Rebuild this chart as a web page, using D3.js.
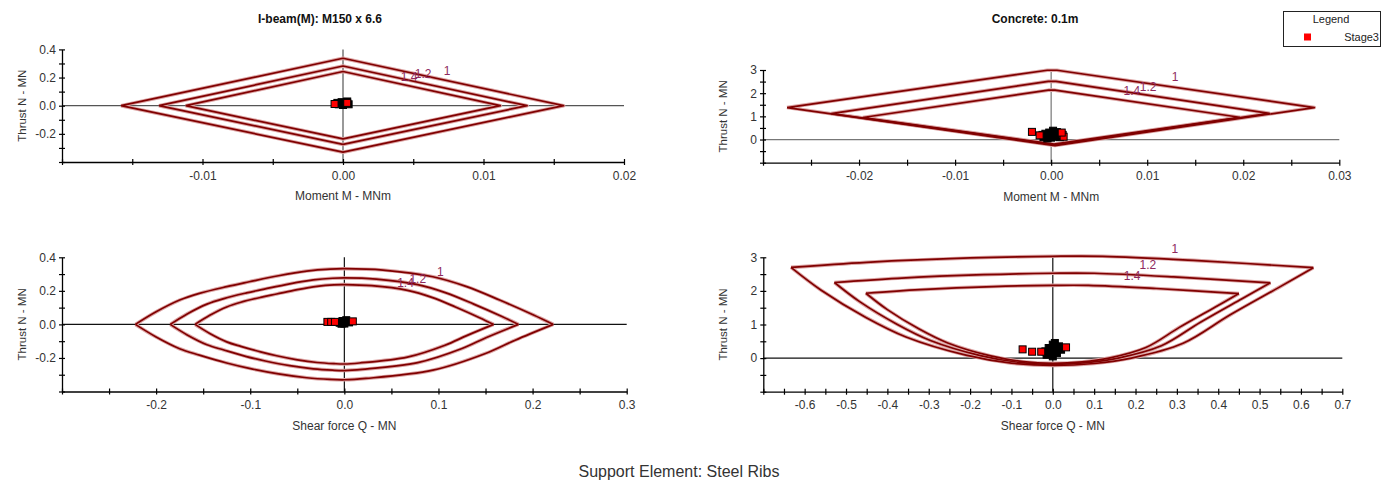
<!DOCTYPE html>
<html>
<head>
<meta charset="utf-8">
<script src="https://cdn.jsdelivr.net/npm/d3@7/dist/d3.min.js"></script>
<style>
  html, body { margin: 0; padding: 0; background: #ffffff; }
  svg { display: block; font-family: "Liberation Sans", Arial, sans-serif; }
</style>
</head>
<body>
<svg id="chart" width="1391" height="481"></svg>
<script>
// ---- Factor-of-safety envelope labels ----
const fsLabels = ["1", "1.2", "1.4"];

// ---- I-beam M-N capacity envelopes [moment MNm, thrust MN] ----
const ibeamMN_fs1 = [[-0.0158, 0], [0, 0.337], [0.0157, 0], [0, -0.33], [-0.0158, 0]];
const ibeamMN_fs12 = [[-0.0131, 0], [0, 0.282], [0.0131, 0], [0, -0.275], [-0.0131, 0]];
const ibeamMN_fs14 = [[-0.0112, 0], [0, 0.243], [0.0112, 0], [0, -0.236], [-0.0112, 0]];

// ---- Concrete M-N capacity envelopes ----
const concreteMN_fs1 = [[-0.0275, 1.38], [-0.0004, 2.99], [0.0006, 2.99], [0.0274, 1.38], [0.0004, -0.26], [-0.0275, 1.38]];
const concreteMN_fs12 = [[-0.0229, 1.12], [-0.0003, 2.51], [0.0005, 2.51], [0.0227, 1.13], [0.0004, -0.23], [-0.0229, 1.12]];
const concreteMN_fs14 = [[-0.0196, 0.95], [-0.0003, 2.13], [0.0004, 2.13], [0.0196, 0.96], [0.0003, -0.2], [-0.0196, 0.95]];

// ---- I-beam Q-N capacity envelopes [shear MN, thrust MN] ----
const ibeamQN_fs1 = [[-0.222, 0], [-0.2, 0.075], [-0.175, 0.145], [-0.154, 0.185], [-0.125, 0.225], [-0.101, 0.254],
  [-0.07, 0.29], [-0.04, 0.318], [-0.015, 0.33], [0, 0.332],
  [0.041, 0.324], [0.094, 0.284], [0.13, 0.225], [0.165, 0.145], [0.201, 0.056], [0.222, 0],
  [0.1815, -0.094], [0.15, -0.173], [0.094, -0.273], [0.023, -0.322], [0, -0.33],
  [-0.015, -0.328], [-0.04, -0.318], [-0.07, -0.295], [-0.101, -0.262], [-0.125, -0.23], [-0.154, -0.183],
  [-0.175, -0.145], [-0.2, -0.075], [-0.222, 0]];
const ibeamQN_fs12 = [[-0.185, 0], [-0.167, 0.0625], [-0.146, 0.121], [-0.128, 0.154], [-0.104, 0.1875], [-0.084, 0.212],
  [-0.058, 0.242], [-0.033, 0.265], [-0.0125, 0.275], [0, 0.277],
  [0.034, 0.27], [0.078, 0.237], [0.108, 0.188], [0.1375, 0.121], [0.1675, 0.047], [0.185, 0],
  [0.151, -0.078], [0.125, -0.144], [0.078, -0.228], [0.019, -0.268], [0, -0.275],
  [-0.0125, -0.273], [-0.033, -0.265], [-0.058, -0.246], [-0.084, -0.218], [-0.104, -0.192], [-0.128, -0.1525],
  [-0.146, -0.121], [-0.167, -0.0625], [-0.185, 0]];
const ibeamQN_fs14 = [[-0.1586, 0], [-0.143, 0.054], [-0.125, 0.104], [-0.11, 0.132], [-0.089, 0.161], [-0.072, 0.181],
  [-0.05, 0.207], [-0.029, 0.227], [-0.011, 0.236], [0, 0.237],
  [0.029, 0.231], [0.067, 0.203], [0.093, 0.161], [0.118, 0.104], [0.1436, 0.04], [0.1586, 0],
  [0.13, -0.067], [0.107, -0.124], [0.067, -0.195], [0.016, -0.23], [0, -0.236],
  [-0.011, -0.234], [-0.029, -0.227], [-0.05, -0.211], [-0.072, -0.187], [-0.089, -0.164], [-0.11, -0.131],
  [-0.125, -0.104], [-0.143, -0.054], [-0.1586, 0]];

// ---- Concrete Q-N capacity envelopes ----
const concreteQN_fs1 = [[-0.633, 2.7], [-0.45, 2.85], [-0.2, 2.98], [0, 3.03], [0.12, 3.03], [0.35, 2.9], [0.63, 2.69],
  [0.549, 2.12], [0.428, 1.28], [0.315, 0.44], [0.19, 0.0], [0.1, -0.16], [0, -0.22], [-0.1, -0.15],
  [-0.21, 0.09], [-0.355, 0.63], [-0.452, 1.21], [-0.56, 2.02], [-0.633, 2.7]];
const concreteQN_fs12 = [[-0.528, 2.25], [-0.375, 2.375], [-0.167, 2.483], [0, 2.525], [0.1, 2.525], [0.292, 2.417], [0.526, 2.24],
  [0.4575, 1.767], [0.357, 1.067], [0.2625, 0.367], [0.158, 0.0], [0.083, -0.133], [0, -0.185], [-0.083, -0.125],
  [-0.175, 0.075], [-0.296, 0.525], [-0.377, 1.01], [-0.467, 1.68], [-0.528, 2.25]];
const concreteQN_fs14 = [[-0.452, 1.93], [-0.321, 2.036], [-0.143, 2.129], [0, 2.164], [0.086, 2.164], [0.25, 2.071], [0.45, 1.92],
  [0.392, 1.514], [0.306, 0.914], [0.225, 0.314], [0.136, 0.0], [0.071, -0.114], [0, -0.157], [-0.071, -0.107],
  [-0.15, 0.064], [-0.254, 0.45], [-0.323, 0.864], [-0.4, 1.443], [-0.452, 1.93]];

// ---- Stage3 liner forces ----
const ibeamMN_stage3 = [[-0.0006, 0.012], [0.0003, 0.02]];
const ibeamMN_stage3Dense = [[-0.0003, 0.01], [0, 0.015], [0.0002, 0.02], [0.0004, 0.01], [-0.0001, 0.025], [0.0003, 0.03], [0, 0.005], [-0.0004, 0.02]];
const concreteMN_stage3 = [[-0.002, 0.33], [-0.0012, 0.18], [0.0012, 0.2], [0.0013, 0.12], [0.0011, 0.3]];
const concreteMN_stage3Dense = [[-0.0008, 0.1], [-0.0004, 0.05], [0, 0.08], [0.0004, 0.12], [0.0008, 0.2], [-0.0006, 0.25],
  [-0.0002, 0.3], [0.0002, 0.38], [0.0006, 0.32], [0, 0.2], [-0.0009, 0.2], [0.0009, 0.1]];
const ibeamQN_stage3 = [[-0.018, 0.015], [-0.014, 0.015], [-0.01, 0.015], [0.009, 0.018]];
const ibeamQN_stage3Dense = [[-0.005, 0.01], [-0.002, 0.02], [0, 0.005], [0.002, 0.025], [0.005, 0.012], [0, 0.018], [-0.003, 0.004]];
const concreteQN_stage3 = [[-0.073, 0.26], [-0.05, 0.19], [-0.028, 0.19], [0.032, 0.32]];
const concreteQN_stage3Dense = [[-0.015, 0.1], [-0.01, 0.3], [0, 0.05], [0, 0.2], [0, 0.4], [0.01, 0.15], [0.015, 0.35],
  [0.02, 0.25], [-0.018, 0.2], [0.005, 0.45]];

// ---- Axis tick values ----
const ibeamMN_xTicks = [-0.02, -0.015, -0.01, -0.005, 0, 0.005, 0.01, 0.015, 0.02];
const ibeamMN_xLabels = [-0.01, 0, 0.01, 0.02];
const ibeamN_yTicks = [-0.4, -0.3, -0.2, -0.1, 0, 0.1, 0.2, 0.3, 0.4];
const ibeamN_yLabels = [-0.2, 0, 0.2, 0.4];
const concreteMN_xTicks = [-0.03, -0.025, -0.02, -0.015, -0.01, -0.005, 0, 0.005, 0.01, 0.015, 0.02, 0.025, 0.03];
const concreteMN_xLabels = [-0.02, -0.01, 0, 0.01, 0.02, 0.03];
const concreteN_yTicks = [-1, -0.5, 0, 0.5, 1, 1.5, 2, 2.5, 3];
const concreteN_yLabels = [0, 1, 2, 3];
const ibeamQN_xTicks = [-0.3, -0.25, -0.2, -0.15, -0.1, -0.05, 0, 0.05, 0.1, 0.15, 0.2, 0.25, 0.3];
const ibeamQN_xLabels = [-0.2, -0.1, 0, 0.1, 0.2, 0.3];
const concreteQN_xTicks = [-0.7, -0.65, -0.6, -0.55, -0.5, -0.45, -0.4, -0.35, -0.3, -0.25, -0.2, -0.15, -0.1, -0.05, 0,
  0.05, 0.1, 0.15, 0.2, 0.25, 0.3, 0.35, 0.4, 0.45, 0.5, 0.55, 0.6, 0.65, 0.7];
const concreteQN_xLabels = [-0.6, -0.5, -0.4, -0.3, -0.2, -0.1, 0, 0.1, 0.2, 0.3, 0.4, 0.5, 0.6, 0.7];

// ---- Text ----
const panelTitles = ["I-beam(M): M150 x 6.6", "Concrete: 0.1m"];
const yTitle = "Thrust N - MN";
const xTitles = ["Moment M - MNm", "Shear force Q - MN"];
const footerText = "Support Element: Steel Ribs";
const legendTitle = "Legend";
const legendSeries = ["Stage3"];

// ---- Styling ----
const envelopeColor = "#800000";
const envelopeHalo = "#dca5a5";
const fsLabelColor = "#8e2a5e";
const stageColor = "#ff0000";
const textColor = "#333333";

// plain hyphen-minus for negative tick labels
const locale = d3.formatLocale({ decimal: ".", thousands: ",", grouping: [3], currency: ["", ""], minus: "-" });
const fmt = s => locale.format(s);

const svg = d3.select("#chart");

const panels = [
  { curves: [ibeamMN_fs1, ibeamMN_fs12, ibeamMN_fs14], pts: ibeamMN_stage3, dense: ibeamMN_stage3Dense, smooth: false,
    xDomain: [-0.02, 0.02], yDomain: [-0.4, 0.4], xRange: [62, 624], yRange: [162, 49.4],
    xTicks: ibeamMN_xTicks, xLabels: ibeamMN_xLabels, xFmt: fmt(".2f"),
    yTicks: ibeamN_yTicks, yLabels: ibeamN_yLabels, yFmt: fmt(".1f"),
    xTitle: xTitles[0], title: panelTitles[0], titleX: 320, zeroColor: "#555",
    labelAt: [[0.0074, 0.248], [0.0057, 0.225], [0.0047, 0.203]] },
  { curves: [concreteMN_fs1, concreteMN_fs12, concreteMN_fs14], pts: concreteMN_stage3, dense: concreteMN_stage3Dense, smooth: false,
    xDomain: [-0.03, 0.03], yDomain: [-1, 3], xRange: [763, 1339.3], yRange: [162.7, 70],
    xTicks: concreteMN_xTicks, xLabels: concreteMN_xLabels, xFmt: fmt(".2f"),
    yTicks: concreteN_yTicks, yLabels: concreteN_yLabels, yFmt: fmt("d"),
    xTitle: xTitles[0], title: panelTitles[1], titleX: 1035, zeroColor: "#777",
    labelAt: [[0.0129, 2.68], [0.0101, 2.28], [0.0084, 2.09]] },
  { curves: [ibeamQN_fs1, ibeamQN_fs12, ibeamQN_fs14], pts: ibeamQN_stage3, dense: ibeamQN_stage3Dense, smooth: true,
    xDomain: [-0.3, 0.3], yDomain: [-0.4, 0.4], xRange: [62, 626.7], yRange: [391.5, 257.3],
    xTicks: ibeamQN_xTicks, xLabels: ibeamQN_xLabels, xFmt: fmt(".1f"),
    yTicks: ibeamN_yTicks, yLabels: ibeamN_yLabels, yFmt: fmt(".1f"),
    xTitle: xTitles[1], title: null, zeroColor: "#111",
    labelAt: [[0.102, 0.314], [0.078, 0.27], [0.065, 0.245]] },
  { curves: [concreteQN_fs1, concreteQN_fs12, concreteQN_fs14], pts: concreteQN_stage3, dense: concreteQN_stage3Dense, smooth: true,
    xDomain: [-0.7, 0.7], yDomain: [-1, 3], xRange: [763.3, 1342.3], yRange: [391.7, 257.3],
    xTicks: concreteQN_xTicks, xLabels: concreteQN_xLabels, xFmt: fmt(".1f"),
    yTicks: concreteN_yTicks, yLabels: concreteN_yLabels, yFmt: fmt("d"),
    xTitle: xTitles[1], title: null, zeroColor: "#111",
    labelAt: [[0.295, 3.26], [0.23, 2.77], [0.192, 2.44]] }
];

const near = (list, v) => list.some(t => Math.abs(t - v) < 1e-9);

panels.forEach(p => {
  const x = d3.scaleLinear().domain(p.xDomain).range(p.xRange);
  const y = d3.scaleLinear().domain(p.yDomain).range(p.yRange);
  const g = svg.append("g");

  // zero reference lines
  g.append("line")
    .attr("x1", p.xRange[0]).attr("x2", p.xRange[1])
    .attr("y1", y(0)).attr("y2", y(0))
    .attr("stroke", p.zeroColor).attr("stroke-width", 1.2);
  g.append("line")
    .attr("x1", x(0)).attr("x2", x(0))
    .attr("y1", p.yRange[0]).attr("y2", p.yRange[1])
    .attr("stroke", p.zeroColor).attr("stroke-width", 1.2);

  // envelopes: smooth branches are split at the extreme-shear vertex so the tips stay sharp
  const linear = d3.line().x(d => x(d[0])).y(d => y(d[1]));
  const smooth = d3.line().x(d => x(d[0])).y(d => y(d[1])).curve(d3.curveCatmullRom.alpha(0.5));
  const pieces = c => {
    if (!p.smooth) return [linear(c)];
    const k = d3.maxIndex(c, d => d[0]);
    return [smooth(c.slice(0, k + 1)), smooth(c.slice(k))];
  };
  const paths = p.curves.flatMap(pieces);
  paths.forEach(d => {
    g.append("path").attr("d", d).attr("fill", "none")
      .attr("stroke", envelopeHalo).attr("stroke-width", 3.6).attr("stroke-linejoin", "round");
  });
  paths.forEach(d => {
    g.append("path").attr("d", d).attr("fill", "none")
      .attr("stroke", envelopeColor).attr("stroke-width", 1.7).attr("stroke-linejoin", "round");
  });

  // factor-of-safety labels
  fsLabels.forEach((lab, i) => {
    g.append("text")
      .attr("x", x(p.labelAt[i][0])).attr("y", y(p.labelAt[i][1]) + 4)
      .attr("text-anchor", "middle").attr("font-size", 12)
      .attr("fill", fsLabelColor).text(lab);
  });

  // stage3 points
  const s = 7;
  g.selectAll(".dense").data(p.dense).join("rect")
    .attr("x", d => x(d[0]) - s / 2).attr("y", d => y(d[1]) - s / 2)
    .attr("width", s).attr("height", s)
    .attr("fill", "#000").attr("stroke", "#000").attr("stroke-width", 1);
  g.selectAll(".pt").data(p.pts).join("rect")
    .attr("x", d => x(d[0]) - s / 2).attr("y", d => y(d[1]) - s / 2)
    .attr("width", s).attr("height", s)
    .attr("fill", stageColor).attr("stroke", "#000").attr("stroke-width", 1);

  // axes
  const xAxis = d3.axisBottom(x).tickValues(p.xTicks).tickSizeOuter(0).tickSizeInner(3)
    .tickFormat(v => near(p.xLabels, v) ? p.xFmt(v) : "");
  const gx = svg.append("g").attr("transform", `translate(0,${p.yRange[0]})`).call(xAxis);
  gx.select(".domain").attr("stroke", "#000").attr("stroke-width", 1.3);
  gx.selectAll(".tick line").attr("y1", -3).attr("y2", 3).attr("stroke", "#000").attr("stroke-width", 1.2);
  gx.selectAll(".tick text").attr("y", 9).attr("dy", "0.71em")
    .attr("font-size", 12).attr("font-family", "Liberation Sans, Arial, sans-serif").attr("fill", textColor);

  const yAxis = d3.axisLeft(y).tickValues(p.yTicks).tickSizeOuter(0).tickSizeInner(3)
    .tickFormat(v => near(p.yLabels, v) ? p.yFmt(v) : "");
  const gy = svg.append("g").attr("transform", `translate(${p.xRange[0]},0)`).call(yAxis);
  gy.select(".domain").attr("stroke", "#000").attr("stroke-width", 1.3);
  gy.selectAll(".tick line").attr("x1", -3).attr("x2", 3).attr("stroke", "#000").attr("stroke-width", 1.2);
  gy.selectAll(".tick text").attr("x", -6)
    .attr("font-size", 12).attr("font-family", "Liberation Sans, Arial, sans-serif").attr("fill", textColor);

  // axis titles
  svg.append("text").attr("x", x(0)).attr("y", p.yRange[0] + 38)
    .attr("text-anchor", "middle").attr("font-size", 12).attr("fill", textColor).text(p.xTitle);
  const yMid = (p.yRange[0] + p.yRange[1]) / 2;
  svg.append("text")
    .attr("transform", `translate(${p.xRange[0] - 36},${yMid}) rotate(-90)`)
    .attr("text-anchor", "middle").attr("font-size", 11.5).attr("fill", textColor).text(yTitle);

  if (p.title) {
    svg.append("text").attr("x", p.titleX).attr("y", 23)
      .attr("text-anchor", "middle").attr("font-size", 12).attr("font-weight", "bold")
      .attr("fill", "#111").text(p.title);
  }
});

// legend
const lg = svg.append("g");
lg.append("rect").attr("x", 1283.5).attr("y", 11.5).attr("width", 97).attr("height", 35)
  .attr("fill", "#fff").attr("stroke", "#222").attr("stroke-width", 1);
lg.append("text").attr("x", 1331).attr("y", 23).attr("text-anchor", "middle")
  .attr("font-size", 11).attr("fill", "#222").text(legendTitle);
lg.append("rect").attr("x", 1304).attr("y", 33.5).attr("width", 7).attr("height", 7).attr("fill", stageColor);
lg.append("text").attr("x", 1379).attr("y", 41).attr("text-anchor", "end")
  .attr("font-size", 11).attr("fill", "#222").text(legendSeries[0]);

// footer
svg.append("text").attr("x", 679).attr("y", 477).attr("text-anchor", "middle")
  .attr("font-size", 16).attr("fill", textColor).text(footerText);
</script>
</body>
</html>
